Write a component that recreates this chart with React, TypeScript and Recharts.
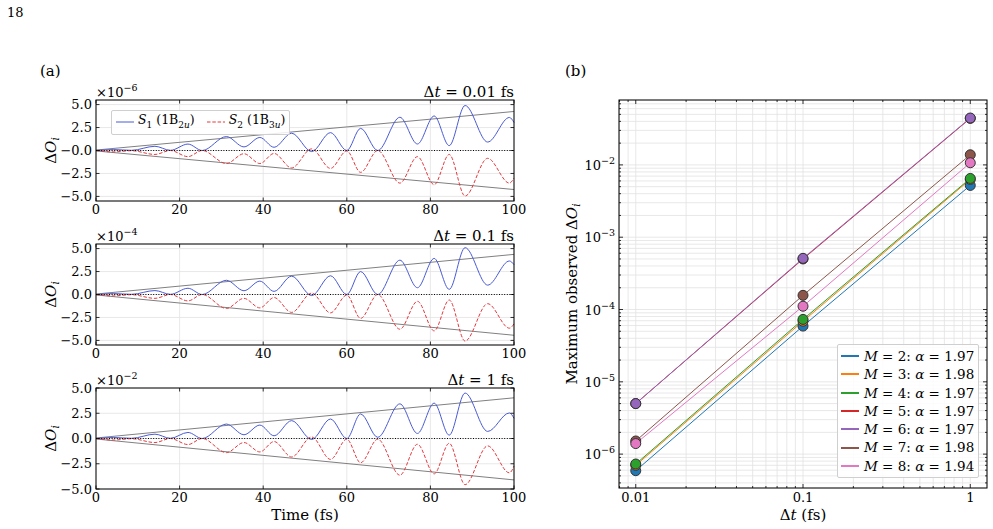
import React from 'react';
import { CartesianGrid, Legend, Line, LineChart, ReferenceLine, XAxis, YAxis } from 'recharts';

const SERIF = '"DejaVu Serif", "Liberation Serif", serif';
const BLUE = '#4a5bd4';
const RED = '#e5393f';
const GRID = '#e2e2e2';

// ---- panel (a): deviation of the observables vs time, sampled at the extrema ----
const timeFs = [0, 4.2, 8.5, 14.1, 17.8, 22.0, 25.4, 31.2, 35.4, 39.2, 42.6, 46.8, 51.6, 56.1, 60.0, 63.3, 67.4, 72.7, 76.9, 80.9, 84.5, 88.3, 93.7, 98.9, 100];

const s1Dt001 = [0, 0.1, 0.02, 0.46, 0.02, 0.7, 0.0, 1.52, 0.39, 1.42, 0.35, 1.88, -0.12, 1.95, 0.0, 2.41, 0.0, 3.62, 0.71, 3.76, 0.53, 4.9, 0.92, 3.6, 3.05];
const s2Dt001 = [0, -0.15, -0.02, -0.43, 0.0, -0.67, 0.0, -1.42, -0.35, -1.42, -0.32, -1.9, 0.18, -1.95, -0.05, -2.38, 0.0, -3.55, -0.67, -3.72, -0.43, -4.96, -0.85, -3.55, -3.0];

const s1Dt01 = [0, 0.1, 0.02, 0.43, 0.02, 0.68, 0.0, 1.55, 0.41, 1.46, 0.34, 2.0, -0.12, 2.04, 0.0, 2.5, 0.0, 3.74, 0.74, 3.93, 0.56, 5.1, 1.02, 3.65, 3.25];
const s2Dt01 = [0, -0.15, -0.02, -0.42, 0.0, -0.7, 0.0, -1.52, -0.42, -1.46, -0.33, -1.95, 0.15, -2.0, -0.07, -2.6, 0.0, -3.78, -0.74, -3.96, -0.6, -5.07, -1.0, -3.67, -3.2];

const s1Dt1 = [0, 0.1, 0.02, 0.43, 0.02, 0.6, 0.0, 1.43, 0.37, 1.33, 0.27, 1.77, -0.1, 1.93, 0.0, 2.43, 0.12, 3.43, 0.5, 3.5, 0.33, 4.5, 0.7, 2.53, 2.0];
const s2Dt1 = [0, -0.15, -0.02, -0.4, 0.0, -0.6, 0.0, -1.4, -0.4, -1.33, -0.3, -1.83, 0.15, -2.07, -0.07, -2.4, -0.07, -3.63, -0.57, -3.5, -0.47, -4.57, -0.73, -3.4, -2.73];

// linear envelopes, endpoints only
const envTime = [0, 100];
const envUpDt001 = [0.05, 4.25];
const envLoDt001 = [-0.05, -4.25];
const envUpDt01 = [0.05, 4.37];
const envLoDt01 = [-0.05, -4.44];
const envUpDt1 = [0.05, 4.03];
const envLoDt1 = [-0.05, -4.1];

const timeTicks = [0, 20, 40, 60, 80, 100];
const devTicks = [-5, -2.5, 0, 2.5, 5];

// ---- panel (b): maximum deviation vs time step ----
const dtValues = [0.01, 0.1, 1];
const mValues = [2, 3, 4, 5, 6, 7, 8];
const alphaValues = ['1.97', '1.98', '1.97', '1.97', '1.97', '1.98', '1.94'];
const maxM2 = [5.9e-7, 5.9e-5, 5.2e-3];
const maxM3 = [7.0e-7, 6.9e-5, 6.3e-3];
const maxM4 = [7.3e-7, 7.3e-5, 6.5e-3];
const maxM5 = [5.0e-6, 5.0e-4, 4.4e-2];
const maxM6 = [5.0e-6, 5.1e-4, 4.45e-2];
const maxM7 = [1.52e-6, 1.57e-4, 1.38e-2];
const maxM8 = [1.4e-6, 1.11e-4, 1.07e-2];
const seriesMax = [maxM2, maxM3, maxM4, maxM5, maxM6, maxM7, maxM8];
const seriesColors = ['#1f77b4', '#ff7f0e', '#2ca02c', '#d62728', '#9467bd', '#8c564b', '#e377c2'];

// log ticks: decades plus 2..9 minors inside the axis range
function logTicks(lo: number, hi: number) {
  const out: number[] = [];
  for (let e = Math.floor(Math.log10(lo)); e <= Math.ceil(Math.log10(hi)); e++) {
    for (let k = 1; k < 10; k++) {
      const v = Number((k * Math.pow(10, e)).toPrecision(3));
      if (v >= lo && v <= hi) out.push(v);
    }
  }
  return out;
}
const isDecade = (v: number) => Math.abs(Math.log10(v) - Math.round(Math.log10(v))) < 1e-9;

const DT_DOMAIN = [0.00794, 1.259];
const MAX_DOMAIN = [3.4e-7, 0.079];
const dtTicks = logTicks(DT_DOMAIN[0], DT_DOMAIN[1]);
const maxTicks = logTicks(MAX_DOMAIN[0], MAX_DOMAIN[1]);

// ---- layout of panel (a) ----
const LX = 96;
const LW = 418;
const PH = 101;
const PAD = 10;
const XH = 24;

function SeriesLegend() {
  return (
    <div
      style={{
        fontFamily: SERIF,
        fontSize: 12.5,
        border: '1px solid #cfcfcf',
        borderRadius: 2,
        background: 'rgba(255,255,255,0.85)',
        padding: '1px 4px',
        display: 'flex',
        alignItems: 'center',
        whiteSpace: 'nowrap',
        lineHeight: '16px',
      }}
    >
      <svg width={18} height={8} style={{ marginRight: 4 }}>
        <line x1={0} x2={18} y1={4} y2={4} stroke={BLUE} strokeWidth={1} />
      </svg>
      <span>
        <i>S</i>
        <sub style={{ fontSize: 9 }}>1</sub> (1B<sub style={{ fontSize: 9 }}>2<i>u</i></sub>)
      </span>
      <svg width={18} height={8} style={{ marginLeft: 12, marginRight: 4 }}>
        <line x1={0} x2={18} y1={4} y2={4} stroke={RED} strokeWidth={1} strokeDasharray="3.5 1.8" />
      </svg>
      <span>
        <i>S</i>
        <sub style={{ fontSize: 9 }}>2</sub> (1B<sub style={{ fontSize: 9 }}>3<i>u</i></sub>)
      </span>
    </div>
  );
}

interface PanelProps {
  top: number;
  s1: number[];
  s2: number[];
  envUp: number[];
  envLo: number[];
  yMax: number;
  zeroText: string;
  legend?: boolean;
}

function DeviationPanel({ top, s1, s2, envUp, envLo, yMax, zeroText, legend }: PanelProps) {
  const rows = timeFs.map((t, i) => ({ t, s1: s1[i], s2: s2[i] }));
  const env = envTime.map((t, i) => ({ t, up: envUp[i], lo: envLo[i] }));
  const bottom = PAD + PH;
  const right = LX + LW;

  const yTick = (p: any) => {
    const v = p.payload.value;
    const label = v === 0 ? zeroText : (v < 0 ? '\u2212' : '') + Math.abs(v).toFixed(1);
    return (
      <g key={`y${v}`}>
        <line x1={LX} x2={LX + 3.5} y1={p.y} y2={p.y} stroke="#000" strokeWidth={0.8} />
        <line x1={right} x2={right - 3.5} y1={p.y} y2={p.y} stroke="#000" strokeWidth={0.8} />
        <text x={LX - 4} y={p.y + 4.5} textAnchor="end" fontFamily={SERIF} fontSize={13} fill="#000">
          {label}
        </text>
      </g>
    );
  };
  const xTick = (p: any) => (
    <g key={`x${p.payload.value}`}>
      <line x1={p.x} x2={p.x} y1={bottom} y2={bottom - 3.5} stroke="#000" strokeWidth={0.8} />
      <line x1={p.x} x2={p.x} y1={PAD} y2={PAD + 3.5} stroke="#000" strokeWidth={0.8} />
      <text x={p.x} y={bottom + 13} textAnchor="middle" fontFamily={SERIF} fontSize={13} fill="#000">
        {p.payload.value}
      </text>
    </g>
  );

  return (
    <div style={{ position: 'absolute', left: 0, top: top - PAD }}>
      <LineChart
        width={right + 26}
        height={PAD + PH + XH}
        data={rows}
        margin={{ top: PAD, right: 26, bottom: 0, left: 0 }}
      >
        <CartesianGrid stroke={GRID} strokeWidth={0.8} />
        <XAxis
          dataKey="t"
          type="number"
          domain={[0, 100]}
          ticks={timeTicks}
          interval={0}
          height={XH}
          axisLine={false}
          tickLine={false}
          tick={xTick}
        />
        <YAxis
          type="number"
          domain={[-yMax, yMax]}
          ticks={devTicks}
          interval={0}
          width={LX}
          axisLine={false}
          tickLine={false}
          tick={yTick}
        />
        <Line data={env} dataKey="up" stroke="#808080" strokeWidth={1} dot={false} isAnimationActive={false} legendType="none" />
        <Line data={env} dataKey="lo" stroke="#808080" strokeWidth={1} dot={false} isAnimationActive={false} legendType="none" />
        <Line type="monotone" dataKey="s1" stroke={BLUE} strokeWidth={1} dot={false} isAnimationActive={false} />
        <Line
          type="monotone"
          dataKey="s2"
          stroke={RED}
          strokeWidth={1}
          strokeDasharray="3.5 1.8"
          dot={false}
          isAnimationActive={false}
        />
        <ReferenceLine y={0} stroke="#000" strokeWidth={1} strokeDasharray="1 1.6" />
        {legend && (
          <Legend
            layout="vertical"
            align="center"
            verticalAlign="middle"
            wrapperStyle={{ left: 111, top: 20, width: 'auto' }}
            content={() => <SeriesLegend />}
          />
        )}
      </LineChart>
    </div>
  );
}

// ---- layout of panel (b) ----
const RL = 540;
const RX0 = 79;
const RX1 = 447;
const RY0 = 100;
const RY1 = 488;

function ConvergenceLegend() {
  return (
    <div
      style={{
        fontFamily: SERIF,
        fontSize: 13.5,
        border: '1px solid #cfcfcf',
        borderRadius: 2,
        background: 'rgba(255,255,255,0.85)',
        padding: '2px 4px 2px 3px',
        lineHeight: '18.3px',
        whiteSpace: 'nowrap',
      }}
    >
      {mValues.map((m, i) => (
        <div key={m} style={{ display: 'flex', alignItems: 'center' }}>
          <svg width={18} height={8} style={{ marginRight: 5 }}>
            <line x1={0} x2={18} y1={4} y2={4} stroke={seriesColors[i]} strokeWidth={2} />
          </svg>
          <span>
            <i>M</i> = {m}: <i>α</i> = {alphaValues[i]}
          </span>
        </div>
      ))}
    </div>
  );
}

function ConvergencePanel() {
  const rows = dtValues.map((dt, i) => {
    const r: Record<string, number> = { dt };
    seriesMax.forEach((s, k) => {
      r[`m${mValues[k]}`] = s[i];
    });
    return r;
  });

  const xTick = (p: any) => {
    const v = p.payload.value;
    const major = isDecade(v);
    const len = major ? 4 : 2;
    return (
      <g key={`x${v}`}>
        <line x1={p.x} x2={p.x} y1={RY1} y2={RY1 - len} stroke="#000" strokeWidth={0.8} />
        <line x1={p.x} x2={p.x} y1={RY0} y2={RY0 + len} stroke="#000" strokeWidth={0.8} />
        {major && (
          <text x={p.x} y={RY1 + 14} textAnchor="middle" fontFamily={SERIF} fontSize={13} fill="#000">
            {String(v)}
          </text>
        )}
      </g>
    );
  };
  const yTick = (p: any) => {
    const v = p.payload.value;
    const major = isDecade(v);
    const len = major ? 4 : 2;
    const exp = Math.round(Math.log10(v));
    return (
      <g key={`y${v}`}>
        <line x1={RX0} x2={RX0 + len} y1={p.y} y2={p.y} stroke="#000" strokeWidth={0.8} />
        <line x1={RX1} x2={RX1 - len} y1={p.y} y2={p.y} stroke="#000" strokeWidth={0.8} />
        {major && (
          <text x={RX0 - 4} y={p.y + 5} textAnchor="end" fontFamily={SERIF} fontSize={13} fill="#000">
            10
            <tspan dy={-6} fontSize={9.5}>
              {`\u2212${Math.abs(exp)}`}
            </tspan>
          </text>
        )}
      </g>
    );
  };

  return (
    <div style={{ position: 'absolute', left: RL, top: 0 }}>
      <LineChart width={453} height={529} data={rows} margin={{ top: RY0, right: 453 - RX1, bottom: 0, left: 0 }}>
        <CartesianGrid stroke={GRID} strokeWidth={0.8} />
        <XAxis
          dataKey="dt"
          type="number"
          scale="log"
          domain={DT_DOMAIN}
          ticks={dtTicks}
          interval={0}
          height={529 - RY1}
          axisLine={false}
          tickLine={false}
          tick={xTick}
        />
        <YAxis
          type="number"
          scale="log"
          domain={MAX_DOMAIN}
          ticks={maxTicks}
          interval={0}
          width={RX0}
          axisLine={false}
          tickLine={false}
          tick={yTick}
        />
        {mValues.map((m, i) => (
          <Line
            key={m}
            dataKey={`m${m}`}
            stroke={seriesColors[i]}
            strokeWidth={1}
            dot={{ r: 5, fill: seriesColors[i], stroke: '#333', strokeWidth: 1, fillOpacity: 1 }}
            isAnimationActive={false}
          />
        ))}
        <Legend
          layout="vertical"
          align="center"
          verticalAlign="middle"
          wrapperStyle={{ left: 297, top: 344, width: 'auto' }}
          content={() => <ConvergenceLegend />}
        />
      </LineChart>
    </div>
  );
}

const panels = [
  { top: 100, s1: s1Dt001, s2: s2Dt001, envUp: envUpDt001, envLo: envLoDt001, yMax: 5.5, zeroText: '\u22120.0', exp: '6', dt: '0.01', legend: true },
  { top: 244, s1: s1Dt01, s2: s2Dt01, envUp: envUpDt01, envLo: envLoDt01, yMax: 5.5, zeroText: '0.0', exp: '4', dt: '0.1', legend: false },
  { top: 388, s1: s1Dt1, s2: s2Dt1, envUp: envUpDt1, envLo: envLoDt1, yMax: 5, zeroText: '0.0', exp: '2', dt: '1', legend: false },
];

export default function App() {
  return (
    <div style={{ position: 'absolute', left: 0, top: 0, width: 993, height: 529, background: '#fff', overflow: 'hidden' }}>
      {panels.map((p) => (
        <DeviationPanel key={p.top} {...p} />
      ))}
      <ConvergencePanel />
      <svg
        width={993}
        height={529}
        style={{ position: 'absolute', left: 0, top: 0, pointerEvents: 'none' }}
        fontFamily={SERIF}
        fill="#000"
      >
        <text x={7} y={17} fontSize={13}>18</text>
        <text x={40} y={76} fontSize={15}>(a)</text>
        <text x={565} y={76} fontSize={15}>(b)</text>
        {panels.map((p) => (
          <g key={p.top}>
            <rect x={LX} y={p.top} width={LW} height={PH} fill="none" stroke="#000" strokeWidth={1} />
            <text x={LX} y={p.top - 3} fontSize={13}>
              ×10
              <tspan dy={-6} fontSize={9.5}>{`\u2212${p.exp}`}</tspan>
            </text>
            <text x={LX + LW} y={p.top - 3} fontSize={15} textAnchor="end">
              Δ<tspan fontStyle="italic">t</tspan> = {p.dt} fs
            </text>
            <text
              x={56}
              y={p.top + PH / 2}
              fontSize={15}
              textAnchor="middle"
              transform={`rotate(-90 56 ${p.top + PH / 2})`}
            >
              Δ<tspan fontStyle="italic">O</tspan>
              <tspan fontStyle="italic" fontSize={10.5} dy={3}>i</tspan>
            </text>
          </g>
        ))}
        <rect x={RL + RX0} y={RY0} width={RX1 - RX0} height={RY1 - RY0} fill="none" stroke="#000" strokeWidth={1} />
        <text x={LX + LW / 2} y={520} fontSize={15} textAnchor="middle">Time (fs)</text>
        <text x={RL + (RX0 + RX1) / 2} y={520} fontSize={15} textAnchor="middle">
          Δ<tspan fontStyle="italic">t</tspan> (fs)
        </text>
        <text x={577} y={(RY0 + RY1) / 2} fontSize={15} textAnchor="middle" transform={`rotate(-90 577 ${(RY0 + RY1) / 2})`}>
          Maximum observed Δ<tspan fontStyle="italic">O</tspan>
          <tspan fontStyle="italic" fontSize={10.5} dy={3}>i</tspan>
        </text>
      </svg>
    </div>
  );
}
